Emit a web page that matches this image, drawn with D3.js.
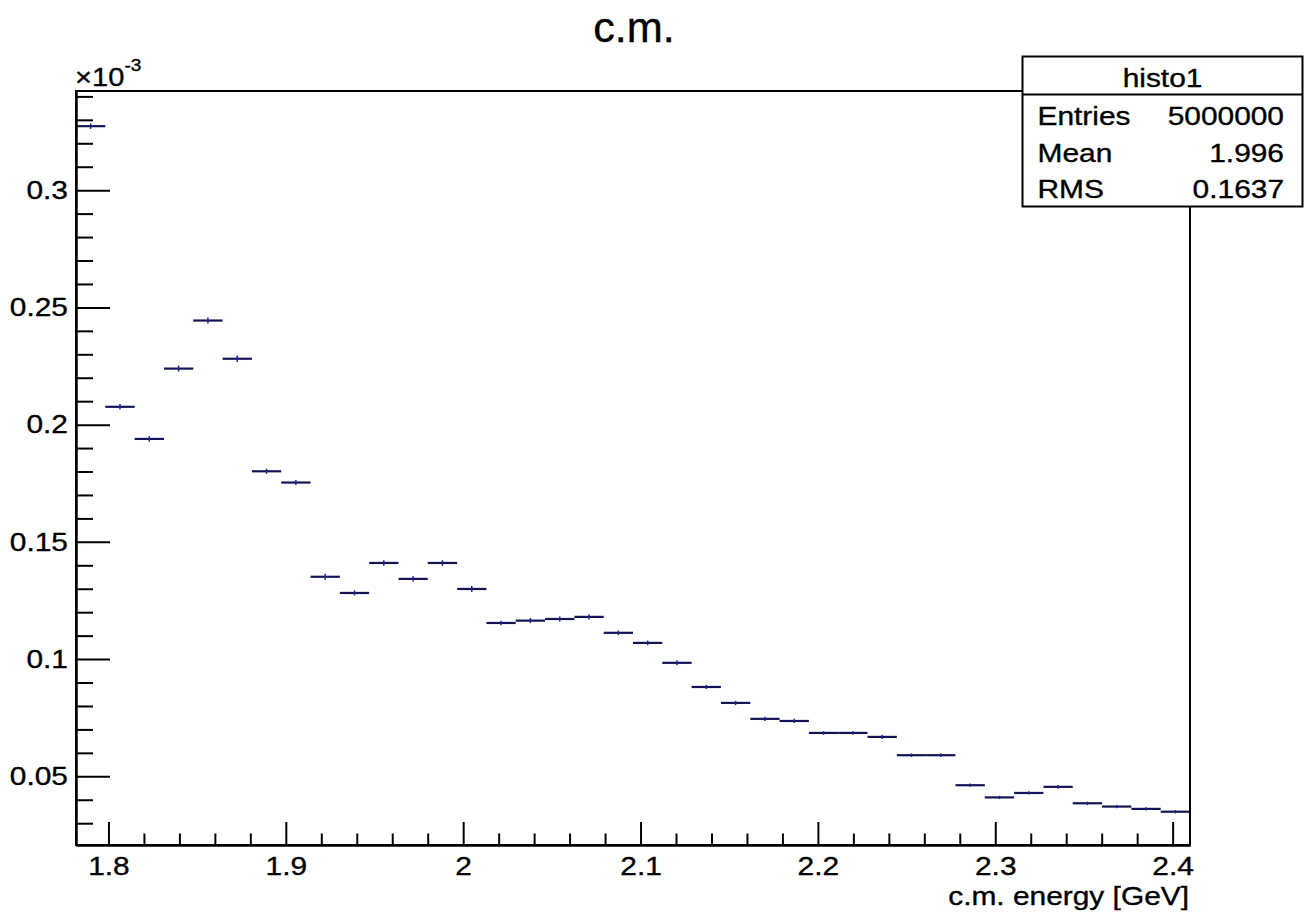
<!DOCTYPE html>
<html>
<head>
<meta charset="utf-8">
<script src="https://cdn.jsdelivr.net/npm/d3@7/dist/d3.min.js"></script>
<style>
  html, body { margin: 0; padding: 0; background: #ffffff; }
  svg { display: block; }
  text { font-family: "Liberation Sans", Arial, Helvetica, sans-serif; fill: #000; stroke: #000; stroke-width: 0.35px; }
</style>
</head>
<body>
<svg id="chart" width="1312" height="913"></svg>
<script>
// ---- data (y in units of 1e-3) ----
const xRange = [1.7817, 2.4098];
const binValues = [0.3273, 0.2076, 0.1939, 0.2239, 0.2444, 0.2281, 0.1801, 0.1753,
  0.1351, 0.1282, 0.1410, 0.1342, 0.1410, 0.1299, 0.1154, 0.1164, 0.1171, 0.1180,
  0.1112, 0.1069, 0.0984, 0.0881, 0.0813, 0.0745, 0.0736, 0.0685, 0.0685, 0.0668,
  0.0590, 0.0590, 0.0462, 0.0410, 0.0429, 0.0455, 0.0385, 0.0371, 0.0361, 0.0349];
const binErrors = [0.0012, 0.0012, 0.0012, 0.0013, 0.0013, 0.0014, 0.0011, 0.0011,
  0.0013, 0.0011, 0.0012, 0.0011, 0.0012, 0.0013, 0.0010, 0.0011, 0.0011, 0.0011,
  0.0010, 0.0010, 0.0010, 0.0009, 0.0009, 0.0009, 0.0009, 0.0008, 0.0008, 0.0009,
  0.0008, 0.0008, 0.0007, 0.0007, 0.0007, 0.0008, 0.0007, 0.0007, 0.0007, 0.0007];
const yRange = [0.0207, 0.3423];
const xMajorTicks = [1.8, 1.9, 2.0, 2.1, 2.2, 2.3, 2.4];
const xTickLabels = ["1.8", "1.9", "2", "2.1", "2.2", "2.3", "2.4"];
const xMinorTicks = [1.82, 1.84, 1.86, 1.88, 1.92, 1.94, 1.96, 1.98, 2.02, 2.04, 2.06, 2.08,
  2.12, 2.14, 2.16, 2.18, 2.22, 2.24, 2.26, 2.28, 2.32, 2.34, 2.36, 2.38];
const yMajorTicks = [0.05, 0.1, 0.15, 0.2, 0.25, 0.3];
const yTickLabels = ["0.05", "0.1", "0.15", "0.2", "0.25", "0.3"];
const yMinorTicks = [0.03, 0.04, 0.06, 0.07, 0.08, 0.09, 0.11, 0.12, 0.13, 0.14, 0.16, 0.17,
  0.18, 0.19, 0.21, 0.22, 0.23, 0.24, 0.26, 0.27, 0.28, 0.29, 0.31, 0.32, 0.33, 0.34];
const titleText = "c.m.";
const xAxisTitle = "c.m. energy [GeV]";
const statsTitle = "histo1";
const statsLabels = ["Entries", "Mean", "RMS"];
const statsValues = ["5000000", "1.996", "0.1637"];

// ---- layout ----
const L = 76, R = 1190, T = 91, B = 845;
const FS = 26, SX = 1.15;
const lineColor = "#141455";

const svg = d3.select("#chart");
svg.append("rect").attr("width", 1312).attr("height", 913).attr("fill", "#fff");

const x = d3.scaleLinear().domain(xRange).range([L, R]);
const y = d3.scaleLinear().domain(yRange).range([B, T]);

const nb = binValues.length;
const bw = (xRange[1] - xRange[0]) / nb;
const bins = binValues.map((v, i) => ({
  x0: xRange[0] + i * bw, x1: xRange[0] + (i + 1) * bw, v: v, e: binErrors[i]
}));

// histogram marks
const gH = svg.append("g");
gH.selectAll("line.h").data(bins).join("line").attr("class", "h")
  .attr("x1", d => x(d.x0)).attr("x2", d => x(d.x1))
  .attr("y1", d => y(d.v)).attr("y2", d => y(d.v))
  .attr("stroke", lineColor).attr("stroke-width", 2.2);
gH.selectAll("line.e").data(bins).join("line").attr("class", "e")
  .attr("x1", d => x((d.x0 + d.x1) / 2)).attr("x2", d => x((d.x0 + d.x1) / 2))
  .attr("y1", d => y(d.v - d.e)).attr("y2", d => y(d.v + d.e))
  .attr("stroke", "#2020a0").attr("stroke-width", 1.5);

// frame
svg.append("rect").attr("x", L).attr("y", T).attr("width", R - L).attr("height", B - T)
  .attr("fill", "none").attr("stroke", "#000").attr("stroke-width", 2);

// axes
function styleAxis(g) {
  g.select(".domain").attr("stroke", "#000").attr("stroke-width", 2);
  g.selectAll(".tick line").attr("stroke", "#000").attr("stroke-width", 2);
}
const gxMinor = svg.append("g").attr("transform", `translate(0,${B})`)
  .call(d3.axisBottom(x).tickValues(xMinorTicks).tickSize(-11.5).tickSizeOuter(0).tickFormat(""));
styleAxis(gxMinor);
const gx = svg.append("g").attr("transform", `translate(0,${B})`)
  .call(d3.axisBottom(x).tickValues(xMajorTicks).tickSize(-23).tickSizeOuter(0).tickPadding(12)
    .tickFormat((d, i) => xTickLabels[i]));
styleAxis(gx);
gx.selectAll(".tick text").attr("font-size", FS).attr("fill", "#000")
  .attr("font-family", "'Liberation Sans', Arial, sans-serif")
  .attr("transform", `scale(${SX},1)`);

const gyMinor = svg.append("g").attr("transform", `translate(${L},0)`)
  .call(d3.axisLeft(y).tickValues(yMinorTicks).tickSize(-17).tickSizeOuter(0).tickFormat(""));
styleAxis(gyMinor);
const gy = svg.append("g").attr("transform", `translate(${L},0)`)
  .call(d3.axisLeft(y).tickValues(yMajorTicks).tickSize(-34).tickSizeOuter(0).tickPadding(7)
    .tickFormat((d, i) => yTickLabels[i]));
styleAxis(gy);
gy.selectAll(".tick text").attr("font-size", FS).attr("fill", "#000")
  .attr("font-family", "'Liberation Sans', Arial, sans-serif")
  .attr("transform", `scale(${SX},1)`);

// helper for stretched text
function stext(tx, ty, str, anchor, fs, sx) {
  return svg.append("text")
    .attr("transform", `translate(${tx},${ty}) scale(${sx},1)`)
    .attr("text-anchor", anchor).attr("font-size", fs).text(str);
}

// x10^-3 exponent
const ex = svg.append("text").attr("transform", `translate(75,86) scale(1.12,1)`)
  .attr("font-size", 26);
ex.append("tspan").text("\u00d710");
ex.append("tspan").attr("font-size", 17).attr("dy", -15).text("-3");

// title
stext(634, 42, titleText, "middle", 42, 1.03);

// x-axis title
stext(1189, 905, xAxisTitle, "end", FS, SX);

// stats box
const sb = { x: 1022.5, y: 56.5, w: 280, h: 150, div: 94.5 };
svg.append("rect").attr("x", sb.x).attr("y", sb.y).attr("width", sb.w).attr("height", sb.h)
  .attr("fill", "#fff").attr("stroke", "#000").attr("stroke-width", 2);
svg.append("line").attr("x1", sb.x).attr("x2", sb.x + sb.w).attr("y1", sb.div).attr("y2", sb.div)
  .attr("stroke", "#000").attr("stroke-width", 2);
stext(sb.x + sb.w / 2, 87, statsTitle, "middle", FS, SX);
const rowBase = [125, 161.7, 198.3];
statsLabels.forEach((lab, i) => {
  stext(1037.5, rowBase[i], lab, "start", FS, SX);
  stext(1284, rowBase[i], statsValues[i], "end", FS, SX);
});
</script>
</body>
</html>
